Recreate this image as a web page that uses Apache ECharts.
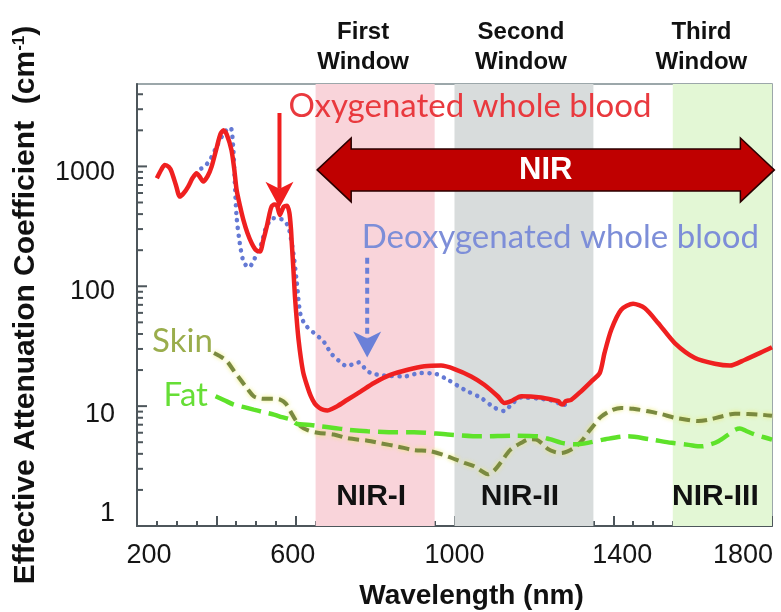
<!DOCTYPE html>
<html>
<head>
<meta charset="utf-8">
<script src="https://cdn.jsdelivr.net/npm/echarts@6/dist/echarts.min.js"></script>
<style>
  html, body { margin: 0; padding: 0; background: #ffffff; }
  #chart { width: 781px; height: 612px; }
</style>
</head>
<body>
<div id="chart"></div>
<script>
// ---- Spectra: wavelength (nm) and effective attenuation coefficient (cm^-1) ----
const oxyNm = [250, 262, 270, 280, 287, 298, 308, 318, 329, 340, 350, 358, 367, 378, 388, 400, 410, 418, 426, 438,
  445, 451, 460, 468, 478, 489, 500, 510, 518, 527, 533, 539, 546, 552, 557, 560, 564, 570, 578, 584,
  588, 590, 594, 598, 603, 607, 613, 619, 628, 638, 648, 659, 670, 680, 692, 705, 730, 764, 797, 840,
  882, 924, 966, 1000, 1042, 1075, 1109, 1126, 1143, 1168, 1218, 1252, 1262, 1268, 1273, 1280, 1294, 1319, 1345, 1366,
  1378, 1395, 1420, 1450, 1479, 1513, 1555, 1606, 1656, 1694, 1732, 1770, 1800];
const oxyVal = [797, 950, 1029, 990, 905, 700, 560, 600, 679, 800, 877, 820, 747, 830, 996, 1400, 1850, 2000, 1850, 1372,
  950, 637, 460, 358, 280, 229, 200, 195, 240, 315, 390, 462, 480, 477, 420, 394, 420, 462, 470, 409,
  300, 229, 140, 82, 50, 36, 25, 19, 15, 12.1, 10.5, 9.7, 9.3, 9.2, 9.5, 10, 11.3, 13.3, 15.6, 18.3,
  20.1, 21.5, 21.8, 20.4, 17.7, 15.1, 12.1, 10.6, 11, 12.1, 11.8, 11.2, 11.0, 10.4, 10.3, 11.0, 11.3, 13.3, 16.1, 18.9,
  27.8, 43.4, 63.7, 71.5, 65.8, 49.4, 33.6, 25.2, 22.6, 21.8, 24.4, 27.8, 31];

const deoxyNm = [362, 372, 385, 400, 415, 428, 436, 442, 446, 451, 459, 468, 476, 483, 490, 497, 505, 514, 522, 531,
  543, 556, 569, 581, 587, 594, 602, 611, 620, 628, 645, 661, 675, 688, 708, 730, 745, 760, 775, 789,
  823, 873, 915, 949, 983, 1025, 1067, 1101, 1126, 1143, 1168, 1218, 1252, 1273, 1290];
const deoxyVal = [960, 1010, 1150, 1450, 1800, 2050, 2100, 1500, 800, 380, 229, 161, 148, 144, 155, 172, 200, 229, 290, 336,
  370, 365, 358, 315, 260, 189, 113, 60, 50, 46, 41, 37, 33, 27.8, 24, 21.5, 22.5, 23.2, 20.5, 18.9,
  18, 17.7, 18.9, 18.7, 16.6, 13.7, 11.7, 9.7, 9.1, 10.3, 11.8, 11.5, 11, 10.2, 10.8];

const skinNm = [394, 410, 427, 445, 461, 478, 494, 510, 528, 545, 562, 575, 587, 600, 612, 630, 655, 696, 730, 781,
  814, 857, 898, 940, 983, 1025, 1050, 1070, 1084, 1100, 1117, 1140, 1168, 1190, 1206, 1220, 1235, 1252, 1269, 1285,
  1302, 1320, 1336, 1355, 1370, 1395, 1420, 1450, 1488, 1520, 1555, 1585, 1614, 1640, 1673, 1707, 1740, 1770, 1800];
const skinVal = [27.8, 26, 23.6, 19.5, 16.6, 14, 12.1, 11.6, 11.5, 11.5, 11.3, 10.5, 9, 7.6, 6.8, 6.3, 6.0, 5.8, 5.4, 5.15,
  4.9, 4.6, 4.3, 4.2, 3.8, 3.36, 3.15, 2.85, 2.7, 2.9, 3.4, 4.3, 4.94, 5.3, 5.26, 4.9, 4.4, 4.15, 4.07, 4.2,
  4.5, 5.1, 6.0, 7.2, 8.2, 9.2, 9.66, 9.5, 9.05, 8.6, 8.0, 7.7, 7.5, 7.7, 8.2, 8.66, 8.6, 8.5, 8.3];

const fatNm = [398, 420, 444, 470, 494, 520, 545, 565, 587, 604, 629, 660, 696, 730, 781, 857, 898, 983, 1067, 1151,
  1210, 1240, 1270, 1302, 1336, 1380, 1437, 1490, 1547, 1590, 1622, 1645, 1665, 1690, 1705, 1719, 1735, 1757, 1780, 1800];
const fatVal = [12.1, 11.2, 10.3, 9.8, 9.35, 8.9, 8.5, 8.1, 7.72, 7.1, 7.0, 6.8, 6.58, 6.36, 6.17, 6.05, 6.05, 5.8, 5.6, 5.67,
  5.6, 5.3, 4.94, 4.8, 4.94, 5.3, 5.6, 5.3, 4.94, 4.75, 4.62, 4.8, 5.1, 5.8, 6.3, 6.5, 6.2, 5.8, 5.5, 5.26];

// ---- Optical windows ----
const windowNames = ['First\nWindow', 'Second\nWindow', 'Third\nWindow'];
const windowTags = ['NIR-I', 'NIR-II', 'NIR-III'];
const windowStart = [650, 1000, 1550];
const windowEnd = [950, 1350, 1800];

// ---- Axis ticks ----
const xTickLabels = [200, 600, 1000, 1400, 1800];
const yTickLabels = [1, 10, 100, 1000];
const yMinorTicks = [2, 3, 4, 5, 6, 7, 8, 9, 20, 30, 40, 50, 60, 70, 80, 90,
  200, 300, 400, 500, 600, 700, 800, 900, 2000, 3000, 4000];

const X_MIN = 200, X_MAX = 1800, Y_MIN = 1, Y_MAX = 4870;

// ---- Styling ----
const AXIS_COLOR = '#4d565b';
const SANS = '"Liberation Sans", Arial, sans-serif';
const HUMANIST = 'Lato, "Open Sans", sans-serif';
const bandColors = ['#f9d4da', '#d8dcdc', '#e3f7d5'];
const titleShift = [-12, -3, -21];   // px nudges of the window titles
const tagShift = [-4, -4, -7];       // px nudges of the NIR-x tags
const TAG_LEVEL = 1.76;              // value where the NIR-x tags sit
const xLabelShift = {200: 12, 600: -3, 1000: 0, 1400: 9, 1800: -29};
const yLabelShift = {1: -12, 10: 8, 100: 5, 1000: 6};

// annotation layout (data coordinates)
const nirArrow = { from: 654, to: 1806, level: 935 };
const oxyPointer = { nm: 559, top: 2790, tip: 451 };
const deoxyPointer = { nm: 780, top: 173, tip: 25.4 };
const notes = [
  { text: 'Oxygenated whole blood', nm: 582, val: 3190, color: '#e9393e' },
  { text: 'Deoxygenated whole blood', nm: 766, val: 258, color: '#7d8ed8' },
  { text: 'Skin', nm: 238, val: 35, color: '#9aad4c' },
  { text: 'Fat', nm: 267, val: 12.2, color: '#66de36' }
];

const zip = (a, b) => a.map((x, i) => [x, b[i]]);

function xRich() {
  const rich = {};
  xTickLabels.forEach(v => {
    const s = xLabelShift[v] || 0;
    rich['x' + v] = { fontSize: 27, fontFamily: SANS, color: '#151515',
      padding: [0, s < 0 ? -2 * s : 0, 0, s > 0 ? 2 * s : 0] };
  });
  return rich;
}
function yRich() {
  const rich = {};
  yTickLabels.forEach(v => {
    const s = yLabelShift[v] || 0;
    rich['y' + v] = { fontSize: 27, fontFamily: SANS, color: '#151515',
      padding: [s > 0 ? 2 * s : 0, 0, s < 0 ? -2 * s : 0, 0] };
  });
  return rich;
}

function renderBand(params, api) {
  const i = params.dataIndex;
  const p0 = api.coord([windowStart[i], Y_MAX]);
  const p1 = api.coord([windowEnd[i], Y_MIN]);
  const cx = (p0[0] + p1[0]) / 2;
  const tag = api.coord([(windowStart[i] + windowEnd[i]) / 2, TAG_LEVEL]);
  return {
    type: 'group',
    children: [
      { type: 'rect', shape: { x: p0[0], y: p0[1], width: p1[0] - p0[0], height: p1[1] - p0[1] },
        style: { fill: bandColors[i] } },
      { type: 'text', x: cx + titleShift[i], y: p0[1] - 7,
        style: { text: windowNames[i], fill: '#111', font: 'bold 24px ' + SANS,
          align: 'center', verticalAlign: 'bottom', lineHeight: 30 } },
      { type: 'text', x: cx + tagShift[i], y: tag[1],
        style: { text: windowTags[i], fill: '#111', font: 'bold 30px ' + SANS,
          align: 'center', verticalAlign: 'middle' } }
    ]
  };
}

function renderYTick(params, api) {
  const p = api.coord([X_MIN, api.value(1)]);
  const len = api.value(2) ? 10 : 6;
  return { type: 'line', shape: { x1: p[0], y1: p[1], x2: p[0] + len, y2: p[1] },
    style: { stroke: AXIS_COLOR, lineWidth: 2 } };
}

function pointer(api, spec, color, dashed) {
  const top = api.coord([spec.nm, spec.top]);
  const tip = api.coord([spec.nm, spec.tip]);
  const hw = 14, hlen = 26, notch = 7;
  const x = tip[0];
  return [
    { type: 'line', shape: { x1: x, y1: top[1], x2: x, y2: tip[1] - hlen + notch },
      style: { stroke: color, lineWidth: 4, lineDash: dashed ? [6, 4] : null } },
    { type: 'polygon', shape: { points: [[x, tip[1]], [x - hw, tip[1] - hlen], [x, tip[1] - hlen + notch], [x + hw, tip[1] - hlen]] },
      style: { fill: color } }
  ];
}

function renderNotes(params, api) {
  const kids = [];
  const a = api.coord([nirArrow.from, nirArrow.level]);
  const b = api.coord([nirArrow.to, nirArrow.level]);
  const hl = 34, hh = 32, sh = 21, yc = a[1];
  kids.push({ type: 'polygon', shape: { points: [
      [a[0], yc], [a[0] + hl, yc - hh], [a[0] + hl, yc - sh], [b[0] - hl, yc - sh], [b[0] - hl, yc - hh],
      [b[0], yc], [b[0] - hl, yc + hh], [b[0] - hl, yc + sh], [a[0] + hl, yc + sh], [a[0] + hl, yc + hh]] },
    style: { fill: '#bf0000', stroke: '#2a0000', lineWidth: 1.5 } });
  kids.push({ type: 'text', x: (a[0] + b[0]) / 2, y: yc + 1,
    style: { text: 'NIR', fill: '#ffffff', font: 'bold 31px ' + SANS, align: 'center', verticalAlign: 'middle' } });
  pointer(api, oxyPointer, '#f01e1e', false).forEach(k => kids.push(k));
  pointer(api, deoxyPointer, '#6b80d8', true).forEach(k => kids.push(k));
  notes.forEach(n => {
    const p = api.coord([n.nm, n.val]);
    kids.push({ type: 'text', x: p[0], y: p[1],
      style: { text: n.text, fill: n.color, font: '33px ' + HUMANIST, align: 'left', verticalAlign: 'middle' } });
  });
  return { type: 'group', children: kids };
}

const chart = echarts.init(document.getElementById('chart'));
chart.setOption({
  animation: false,
  backgroundColor: '#ffffff',
  grid: {
    left: 137, right: 9, top: 84, bottom: 86,
    show: true, borderColor: '#7c8a8f', borderWidth: 1.5,
    containLabel: false, outerBoundsMode: 'none'
  },
  xAxis: {
    type: 'value', min: X_MIN, max: X_MAX, interval: 200,
    name: 'Wavelength (nm)', nameLocation: 'middle', nameGap: 56,
    nameTextStyle: { fontSize: 28, fontWeight: 'bold', fontFamily: SANS, color: '#111', padding: [0, 0, 0, 34] },
    axisLine: { show: true, lineStyle: { color: AXIS_COLOR, width: 2 } },
    axisTick: { show: true, inside: true, length: 10, lineStyle: { color: AXIS_COLOR, width: 2 } },
    minorTick: { show: true, splitNumber: 4, length: 5, lineStyle: { color: AXIS_COLOR, width: 2 } },
    splitLine: { show: false },
    axisLabel: {
      margin: 16,
      formatter: v => xTickLabels.indexOf(v) >= 0 ? '{x' + v + '|' + v + '}' : '',
      rich: xRich()
    }
  },
  yAxis: {
    type: 'log', logBase: 10, min: Y_MIN, max: Y_MAX,
    name: 'Effective Attenuation Coefficient  (cm{sup|-1})', nameLocation: 'middle', nameGap: 96,
    nameTextStyle: { fontSize: 30, fontWeight: 'bold', fontFamily: SANS, color: '#111',
      rich: { sup: { fontSize: 17, fontWeight: 'bold', fontFamily: SANS, color: '#111', verticalAlign: 'top' } } },
    axisLine: { show: true, lineStyle: { color: AXIS_COLOR, width: 2 } },
    axisTick: { show: false },
    minorTick: { show: false },
    splitLine: { show: false },
    axisLabel: {
      margin: 22,
      formatter: v => {
        const r = Math.round(v);
        return (yTickLabels.indexOf(r) >= 0 && Math.abs(v - r) < 1e-6) ? '{y' + r + '|' + r + '}' : '';
      },
      rich: yRich()
    }
  },
  series: [
    { type: 'custom', name: 'windows', z: 1, silent: true, clip: false,
      data: windowStart.map((s, i) => [(s + windowEnd[i]) / 2, 10]),
      renderItem: renderBand },
    { type: 'line', name: 'Skin', z: 3, showSymbol: false, smooth: 0.3, data: zip(skinNm, skinVal),
      lineStyle: { color: '#7a8a40', width: 4, type: [11, 6],
        shadowColor: 'rgba(236, 236, 110, 0.9)', shadowBlur: 4 } },
    { type: 'line', name: 'Fat', z: 3, showSymbol: false, smooth: 0.3, data: zip(fatNm, fatVal),
      lineStyle: { color: '#5ee22a', width: 4.5, type: [20, 8] } },
    { type: 'line', name: 'Deoxygenated whole blood', z: 4, showSymbol: false, smooth: 0.3, data: zip(deoxyNm, deoxyVal),
      lineStyle: { color: '#6479d4', width: 4.5, type: [0.1, 7.5], cap: 'round' } },
    { type: 'line', name: 'Oxygenated whole blood', z: 5, showSymbol: false, smooth: 0.25, data: zip(oxyNm, oxyVal),
      lineStyle: { color: '#ef2020', width: 4.5 } },
    { type: 'custom', name: 'yTicks', z: 6, silent: true, clip: false,
      data: yTickLabels.map(v => [X_MIN, v, 1]).concat(yMinorTicks.map(v => [X_MIN, v, 0])),
      renderItem: renderYTick },
    { type: 'custom', name: 'notes', z: 7, silent: true, clip: false,
      data: [[1000, 100]],
      renderItem: renderNotes }
  ]
});
</script>
</body>
</html>
